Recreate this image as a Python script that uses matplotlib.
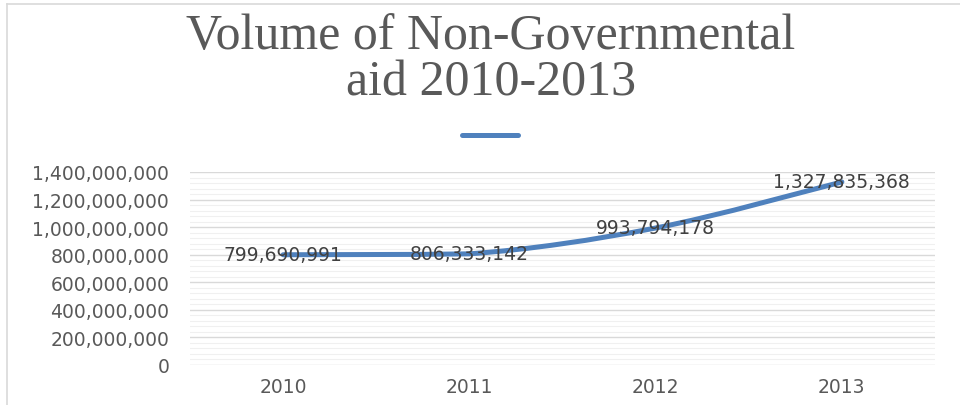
import matplotlib
matplotlib.use("Agg")
import matplotlib.pyplot as plt
import numpy as np
from matplotlib.path import Path
from matplotlib.patches import PathPatch
from matplotlib.lines import Line2D
from matplotlib.ticker import FuncFormatter, MultipleLocator

years = ["2010", "2011", "2012", "2013"]
aid = [799690991, 806333142, 993794178, 1327835368]

blue = "#4F81BD"
grey = "#595959"

fig = plt.figure(figsize=(9.6, 4.06), dpi=100)
ax = fig.add_axes([190 / 960, 1 - 366 / 406, 745 / 960, 193 / 406])

x = np.arange(len(years))
y = np.array(aid, dtype=float)

# smoothed line like excel: cubic bezier through the points,
# control points kept inside each segment's range so it doesn't dip
px = np.concatenate([[x[0]], x, [x[-1]]])
py = np.concatenate([[y[0]], y, [y[-1]]])
verts = [(x[0], y[0])]
codes = [Path.MOVETO]
for i in range(len(x) - 1):
    j = i + 1
    lo, hi = min(y[i], y[i + 1]), max(y[i], y[i + 1])
    c1 = (px[j] + (px[j + 1] - px[j - 1]) / 6,
          np.clip(py[j] + (py[j + 1] - py[j - 1]) / 6, lo, hi))
    c2 = (px[j + 1] - (px[j + 2] - px[j]) / 6,
          np.clip(py[j + 1] - (py[j + 2] - py[j]) / 6, lo, hi))
    verts += [c1, c2, (x[i + 1], y[i + 1])]
    codes += [Path.CURVE4] * 3
ax.add_patch(PathPatch(Path(verts, codes), fill=False, edgecolor=blue, lw=3.6,
                       capstyle="round", joinstyle="round", zorder=3))

for xi, yi in zip(x, aid):
    ax.text(xi, yi, f"{yi:,}", ha="center", va="center", fontsize=13.5,
            color="#404040", zorder=4)

ax.set_xlim(-0.5, len(years) - 0.5)
ax.set_ylim(0, 1400000000)
ax.yaxis.set_major_locator(MultipleLocator(200000000))
ax.yaxis.set_minor_locator(MultipleLocator(40000000))
ax.yaxis.set_major_formatter(FuncFormatter(lambda v, p: f"{int(v):,}"))
ax.set_xticks(x)
ax.set_xticklabels(years)
ax.grid(axis="y", which="major", color="#d9d9d9", lw=1)
ax.grid(axis="y", which="minor", color="#f0f0f0", lw=0.8)
ax.set_axisbelow(True)
for s in ax.spines.values():
    s.set_visible(False)
ax.tick_params(axis="both", which="both", length=0, colors=grey, labelsize=13.5)
ax.tick_params(axis="y", pad=15)
ax.tick_params(axis="x", pad=9)

fig.text(491 / 960, 1 - 13 / 406, "Volume of Non-Governmental\naid 2010-2013",
         ha="center", va="top", fontsize=36, color=grey,
         family="Liberation Serif", linespacing=1.02)

fig.legend(handles=[Line2D([], [], color=blue, lw=3.6, solid_capstyle="round")],
           labels=[""], loc="center", bbox_to_anchor=(490 / 960, 1 - 137 / 406),
           frameon=False, handlelength=3.0, handletextpad=0, fontsize=13.5)

# chart border (left and top)
fig.add_artist(Line2D([7 / 960, 7 / 960], [0, 1 - 5 / 406], transform=fig.transFigure,
                      color="#d9d9d9", lw=1.2))
fig.add_artist(Line2D([7 / 960, 1], [1 - 5 / 406, 1 - 5 / 406], transform=fig.transFigure,
                      color="#d9d9d9", lw=1.2))

fig.savefig("out.png", dpi=100)
